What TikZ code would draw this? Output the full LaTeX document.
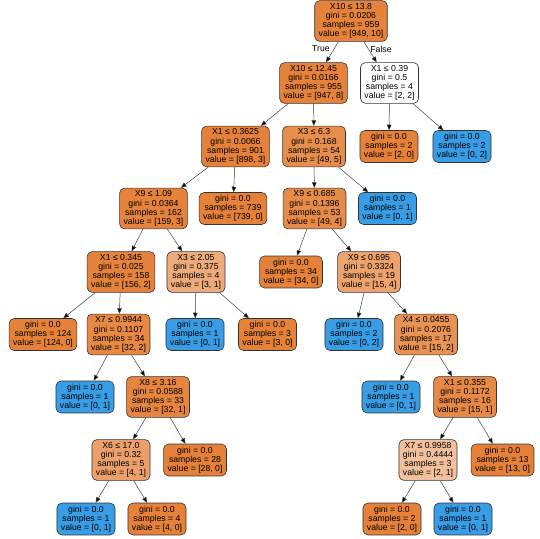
\documentclass[tikz,border=0pt]{standalone}
\usepackage{fontspec}
\setmainfont{Liberation Sans}
\usetikzlibrary{arrows.meta}
\definecolor{orng}{RGB}{229,129,57}
\definecolor{blu}{RGB}{57,157,229}
\tikzset{
  tn/.style={draw=black!80, line width=0.6pt, rounded corners=5pt, align=center,
    inner xsep=4pt, inner ysep=2.8pt, font=\fontsize{8.7}{9.1}\selectfont, text=black},
  leafo/.style={tn, fill=orng},
  leafb/.style={tn, fill=blu},
  edge/.style={draw=black!75, line width=0.5pt, -{Triangle[length=5.5pt,width=4.5pt,fill=black]}},
  elabel/.style={font=\fontsize{8.7}{9.1}\selectfont, text=black}
}
\begin{document}
\begin{tikzpicture}[x=1pt,y=1pt]
\useasboundingbox (0,0) rectangle (540,538);
% levels: y from top 21, 83, 146.5, 208.5, 272, 334.5, 397, 460, 519
\node[tn, fill=orng!98.9!white] (n0) at (351,517) {X10 ≤ 13.8\\gini = 0.0206\\samples = 959\\value = [949, 10]};
\node[tn, fill=orng!99.2!white] (n1) at (313.5,455) {X10 ≤ 12.45\\gini = 0.0166\\samples = 955\\value = [947, 8]};
\node[tn, fill=white] (n2) at (389.5,455) {X1 ≤ 0.39\\gini = 0.5\\samples = 4\\value = [2, 2]};
\node[tn, fill=orng!99.7!white] (n3) at (235.5,391.5) {X1 ≤ 0.3625\\gini = 0.0066\\samples = 901\\value = [898, 3]};
\node[tn, fill=orng!89.8!white] (n4) at (314,391.5) {X3 ≤ 6.3\\gini = 0.168\\samples = 54\\value = [49, 5]};
\node[leafo] (n5) at (389,391.5) {gini = 0.0\\samples = 2\\value = [2, 0]};
\node[leafb] (n6) at (462,391.5) {gini = 0.0\\samples = 2\\value = [0, 2]};
\node[tn, fill=orng!98.1!white] (n7) at (153.5,329.5) {X9 ≤ 1.09\\gini = 0.0364\\samples = 162\\value = [159, 3]};
\node[leafo] (n8) at (233,329.5) {gini = 0.0\\samples = 739\\value = [739, 0]};
\node[tn, fill=orng!91.8!white] (n9) at (314.5,329.5) {X9 ≤ 0.685\\gini = 0.1396\\samples = 53\\value = [49, 4]};
\node[leafb] (n10) at (387.5,329.5) {gini = 0.0\\samples = 1\\value = [0, 1]};
\node[tn, fill=orng!98.7!white] (n11) at (121,266) {X1 ≤ 0.345\\gini = 0.025\\samples = 158\\value = [156, 2]};
\node[tn, fill=orng!66.7!white] (n12) at (196,266) {X3 ≤ 2.05\\gini = 0.375\\samples = 4\\value = [3, 1]};
\node[leafo] (n13) at (291,266) {gini = 0.0\\samples = 34\\value = [34, 0]};
\node[tn, fill=orng!73.3!white] (n14) at (369,266) {X9 ≤ 0.695\\gini = 0.3324\\samples = 19\\value = [15, 4]};
\node[leafo] (n15) at (43,203.5) {gini = 0.0\\samples = 124\\value = [124, 0]};
\node[tn, fill=orng!93.75!white] (n16) at (118.5,203.5) {X7 ≤ 0.9944\\gini = 0.1107\\samples = 34\\value = [32, 2]};
\node[leafb] (n17) at (195,203.5) {gini = 0.0\\samples = 1\\value = [0, 1]};
\node[leafo] (n18) at (267.5,203.5) {gini = 0.0\\samples = 3\\value = [3, 0]};
\node[leafb] (n19) at (354,203.5) {gini = 0.0\\samples = 2\\value = [0, 2]};
\node[tn, fill=orng!86.7!white] (n20) at (426,203.5) {X4 ≤ 0.0455\\gini = 0.2076\\samples = 17\\value = [15, 2]};
\node[leafb] (n21) at (85,141) {gini = 0.0\\samples = 1\\value = [0, 1]};
\node[tn, fill=orng!96.9!white] (n22) at (158,141) {X8 ≤ 3.16\\gini = 0.0588\\samples = 33\\value = [32, 1]};
\node[leafb] (n23) at (391,141) {gini = 0.0\\samples = 1\\value = [0, 1]};
\node[tn, fill=orng!93.3!white] (n24) at (465,141) {X1 ≤ 0.355\\gini = 0.1172\\samples = 16\\value = [15, 1]};
\node[tn, fill=orng!75!white] (n25) at (121,78) {X6 ≤ 17.0\\gini = 0.32\\samples = 5\\value = [4, 1]};
\node[leafo] (n26) at (195,78) {gini = 0.0\\samples = 28\\value = [28, 0]};
\node[tn, fill=orng!50!white] (n27) at (428,78) {X7 ≤ 0.9958\\gini = 0.4444\\samples = 3\\value = [2, 1]};
\node[leafo] (n28) at (502.5,78) {gini = 0.0\\samples = 13\\value = [13, 0]};
\node[leafb] (n29) at (86,19) {gini = 0.0\\samples = 1\\value = [0, 1]};
\node[leafo] (n30) at (157,19) {gini = 0.0\\samples = 4\\value = [4, 0]};
\node[leafo] (n31) at (392,19) {gini = 0.0\\samples = 2\\value = [2, 0]};
\node[leafb] (n32) at (463,19) {gini = 0.0\\samples = 1\\value = [0, 1]};
% edges
\draw[edge] (n0) -- (n1);
\draw[edge] (n0) -- (n2);
\draw[edge] (n1) -- (n3);
\draw[edge] (n1) -- (n4);
\draw[edge] (n2) -- (n5);
\draw[edge] (n2) -- (n6);
\draw[edge] (n3) -- (n7);
\draw[edge] (n3) -- (n8);
\draw[edge] (n4) -- (n9);
\draw[edge] (n4) -- (n10);
\draw[edge] (n7) -- (n11);
\draw[edge] (n7) -- (n12);
\draw[edge] (n9) -- (n13);
\draw[edge] (n9) -- (n14);
\draw[edge] (n11) -- (n15);
\draw[edge] (n11) -- (n16);
\draw[edge] (n12) -- (n17);
\draw[edge] (n12) -- (n18);
\draw[edge] (n14) -- (n19);
\draw[edge] (n14) -- (n20);
\draw[edge] (n16) -- (n21);
\draw[edge] (n16) -- (n22);
\draw[edge] (n20) -- (n23);
\draw[edge] (n20) -- (n24);
\draw[edge] (n22) -- (n25);
\draw[edge] (n22) -- (n26);
\draw[edge] (n24) -- (n27);
\draw[edge] (n24) -- (n28);
\draw[edge] (n25) -- (n29);
\draw[edge] (n25) -- (n30);
\draw[edge] (n27) -- (n31);
\draw[edge] (n27) -- (n32);
\node[elabel] (tl) at (321,489) {True};
\node[elabel] (fl) at (381,489) {False};
\end{tikzpicture}
\end{document}
